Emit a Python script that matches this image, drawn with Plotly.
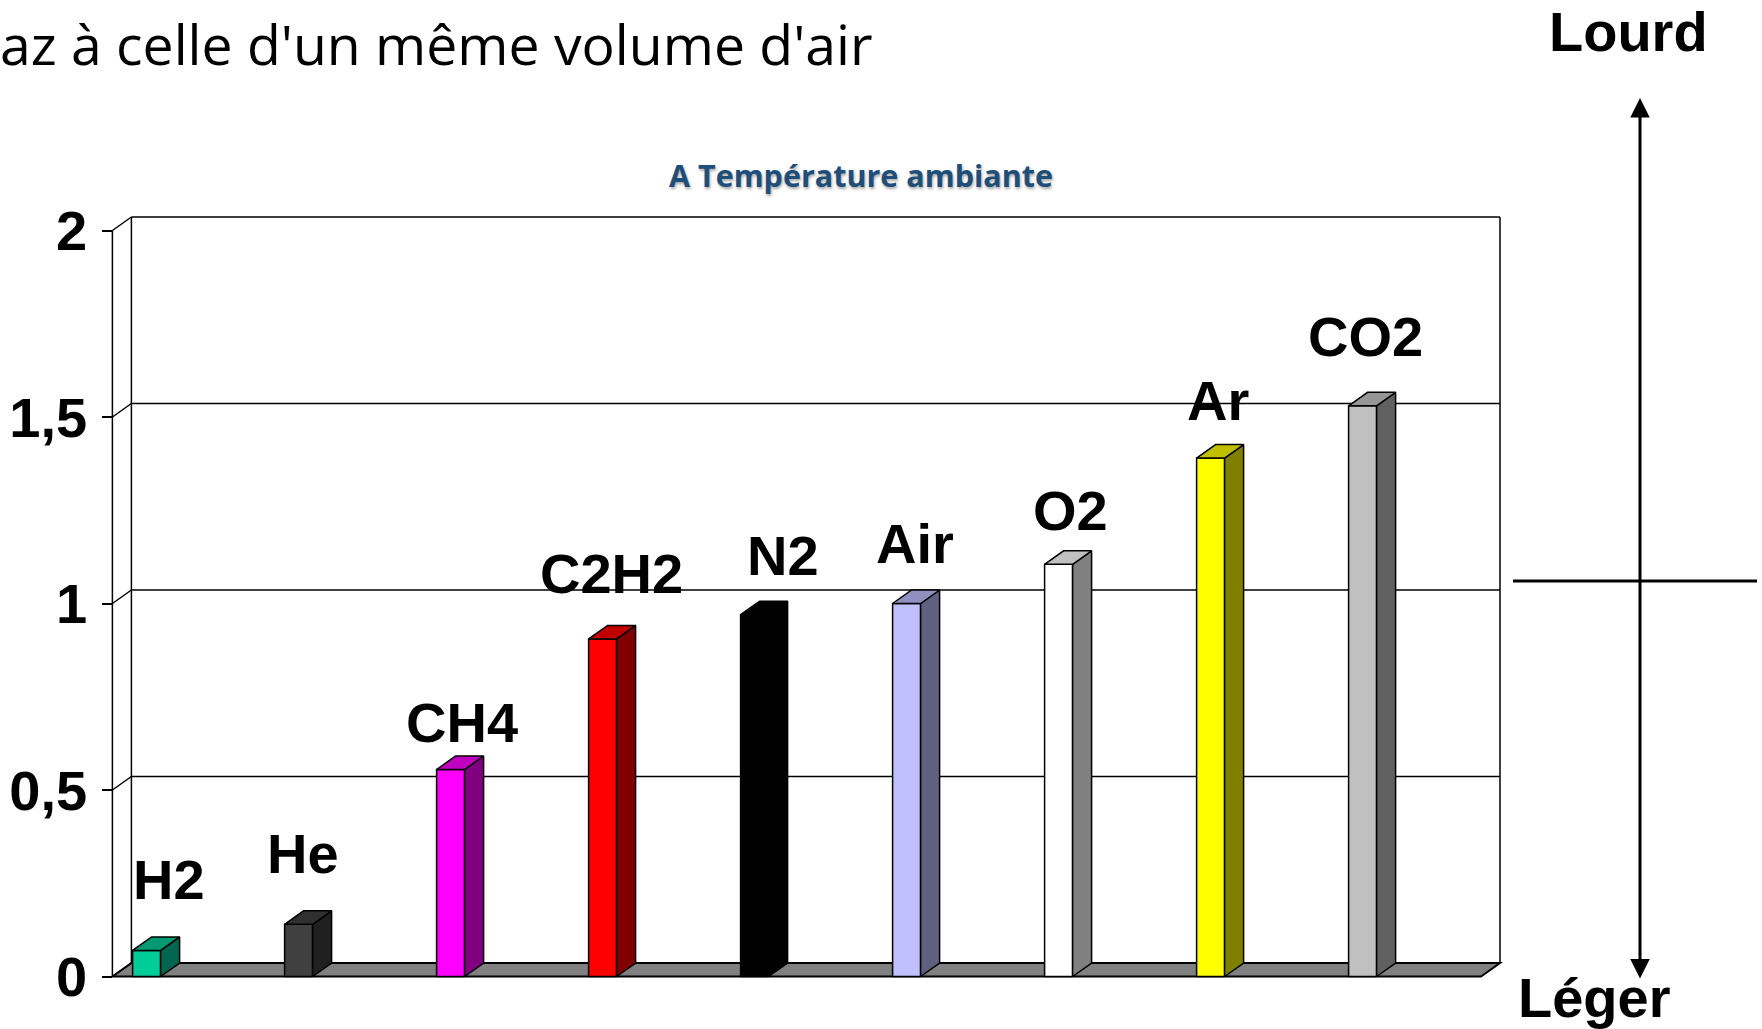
import plotly.graph_objects as go

# ---------------- data ----------------
gases = ["H2", "He", "CH4", "C2H2", "N2", "Air", "O2", "Ar", "CO2"]
density = [0.07, 0.14, 0.555, 0.905, 0.97, 1.0, 1.105, 1.39, 1.53]
tick_vals = [0, 0.5, 1, 1.5, 2]
tick_text = ["0", "0,5", "1", "1,5", "2"]

front_colors = ["#00CC99", "#404040", "#FF00FF", "#FF0000", "#000000",
                "#C0C0FF", "#FFFFFF", "#FFFF00", "#C0C0C0"]
top_colors = ["#009973", "#303030", "#C000C0", "#C00000", "#000000",
              "#9090C0", "#C0C0C0", "#C0C000", "#969696"]
side_colors = ["#006650", "#202020", "#800080", "#800000", "#000000",
               "#606080", "#808080", "#808000", "#606060"]

# label offsets in pixels (style only)
label_dx = [22, 4, 11, 9, 28, 8, 12, 7, 3]
label_dy = [71, 71, 47, 65, 59, 60, 54, 58, 69]

# ---------------- geometry / layout ----------------
W, H = 1762, 1029
ML, MR, MT, MB = 100, 252, 205, 39
PW, PH = W - ML - MR, H - MT - MB
S = 152.0       # px per category
U = 373.0       # px per unit value
X0PX = 146.6    # px of first category centre
Y0PX = 976.5    # px of value 0 (front)

def dx_(p):  # pixel -> data x
    return (p - X0PX) / S

def dy_(p):  # pixel -> data y
    return (Y0PX - p) / U

def pxp(p):  # pixel -> paper x
    return (p - ML) / PW

def pyp(p):  # pixel -> paper y
    return (H - MB - p) / PH

XR = [dx_(ML), dx_(W - MR)]
YR = [dy_(H - MB), dy_(MT)]

XF = dx_(112.4)       # front left edge
XB_R = dx_(1500)      # back right edge
DX = 19 / S           # depth offset x
DY = 13.5 / U         # depth offset y
BW = 28 / S           # bar width
YTOP = 2.0

fig = go.Figure()

idx = list(range(len(gases)))
fig.add_trace(go.Bar(
    x=idx, y=density, width=BW,
    marker=dict(color=front_colors, line=dict(color="black", width=1.5)),
    hoverinfo="skip", showlegend=False,
))

for i, v in enumerate(density):
    xl, xr = i - BW / 2, i + BW / 2
    # side face
    fig.add_trace(go.Scatter(
        x=[xr, xr + DX, xr + DX, xr, xr],
        y=[0, DY, v + DY, v, 0],
        mode="lines", fill="toself", fillcolor=side_colors[i],
        line=dict(color="black", width=1.5),
        hoverinfo="skip", showlegend=False,
    ))
    # top face
    fig.add_trace(go.Scatter(
        x=[xl, xr, xr + DX, xl + DX, xl],
        y=[v, v, v + DY, v + DY, v],
        mode="lines", fill="toself", fillcolor=top_colors[i],
        line=dict(color="black", width=1.5),
        hoverinfo="skip", showlegend=False,
    ))

shapes = []
# floor
shapes.append(dict(
    type="path", xref="x", yref="y", layer="below",
    path=f"M {XF},0 L {XB_R - DX},0 L {XB_R},{DY} L {XF + DX},{DY} Z",
    fillcolor="#808080", line=dict(color="black", width=2),
))
# back wall gridlines
for t in tick_vals[1:]:
    shapes.append(dict(type="line", xref="x", yref="y", layer="below",
                       x0=XF + DX, x1=XB_R, y0=t + DY, y1=t + DY,
                       line=dict(color="black", width=1.5)))
# back wall verticals
for xx in (XF + DX, XB_R):
    shapes.append(dict(type="line", xref="x", yref="y", layer="below",
                       x0=xx, x1=xx, y0=DY, y1=YTOP + DY,
                       line=dict(color="black", width=1.5)))
# front left edge
shapes.append(dict(type="line", xref="x", yref="y", layer="below",
                   x0=XF, x1=XF, y0=0, y1=YTOP,
                   line=dict(color="black", width=1.5)))
# diagonals at ticks
for t in tick_vals:
    shapes.append(dict(type="line", xref="x", yref="y", layer="below",
                       x0=XF, x1=XF + DX, y0=t, y1=t + DY,
                       line=dict(color="black", width=1.5)))
# right horizontal line
shapes.append(dict(type="line", xref="paper", yref="paper",
                   x0=pxp(1513), x1=pxp(1757), y0=pyp(581), y1=pyp(581),
                   line=dict(color="black", width=3)))

annotations = []
for i, (g, v) in enumerate(zip(gases, density)):
    annotations.append(dict(
        x=i, y=v, xref="x", yref="y", text=g, showarrow=False,
        xshift=label_dx[i], yshift=label_dy[i], xanchor="center", yanchor="middle",
        font=dict(family="Liberation Sans, Arial", size=56, color="black", weight="bold"),
    ))

annotations.append(dict(
    x=pxp(861), y=pyp(175), xref="paper", yref="paper",
    text="A Température ambiante", showarrow=False,
    xanchor="center", yanchor="middle",
    font=dict(family="Open Sans", size=30.5, color="#1F4E79", weight="bold",
              shadow="1px 2px 3px rgba(0,0,0,0.35)"),
))
annotations.append(dict(
    x=pxp(-2), y=pyp(43), xref="paper", yref="paper",
    text="az à celle d'un même volume d'air", showarrow=False,
    xanchor="left", yanchor="middle",
    font=dict(family="Open Sans", size=55.3, color="black"),
))
annotations.append(dict(
    x=pxp(1628), y=pyp(31), xref="paper", yref="paper",
    text="Lourd", showarrow=False, xanchor="center", yanchor="middle",
    font=dict(family="Liberation Sans, Arial", size=56, color="black", weight="bold"),
))
annotations.append(dict(
    x=pxp(1594), y=pyp(997), xref="paper", yref="paper",
    text="Léger", showarrow=False, xanchor="center", yanchor="middle",
    font=dict(family="Liberation Sans, Arial", size=56, color="black", weight="bold"),
))
# double-headed vertical arrow
annotations.append(dict(
    x=pxp(1640), y=pyp(98), xref="paper", yref="paper",
    ax=0, ay=980 - 98, axref="pixel", ayref="pixel",
    text="", showarrow=True, arrowside="end+start",
    arrowhead=2, arrowsize=1.3, arrowwidth=3, arrowcolor="black",
    standoff=0, startstandoff=0,
))

fig.update_layout(
    width=W, height=H,
    margin=dict(l=ML, r=MR, t=MT, b=MB, pad=0, autoexpand=False),
    paper_bgcolor="white", plot_bgcolor="rgba(0,0,0,0)",
    barmode="overlay", showlegend=False,
    xaxis=dict(range=XR, visible=False, fixedrange=True, automargin=False),
    yaxis=dict(range=YR, tickvals=tick_vals, ticktext=tick_text,
               anchor="free", position=pxp(112.4), automargin=False,
               ticks="outside", ticklen=10, tickwidth=1.5, tickcolor="black",
               ticklabelstandoff=4,
               showgrid=False, zeroline=False, showline=False, fixedrange=True,
               tickfont=dict(family="Liberation Sans, Arial", size=56, color="black", weight="bold")),
    shapes=shapes, annotations=annotations,
)

fig.write_html(
    "out.html",
    config={"displayModeBar": False},
    post_script="document.body.style.margin='0px';document.body.style.overflow='hidden';",
)
